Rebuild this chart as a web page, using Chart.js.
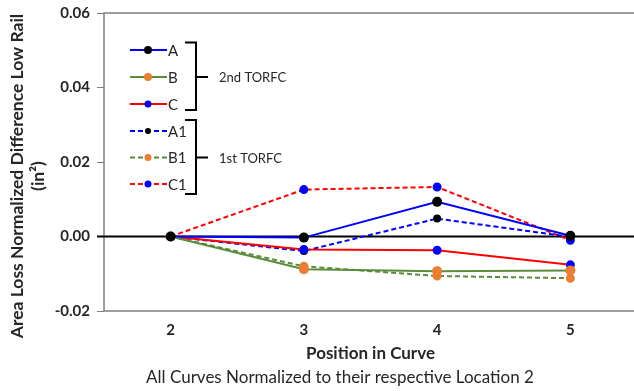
<!DOCTYPE html>
<html>
<head>
<meta charset="utf-8">
<script src="https://cdn.jsdelivr.net/npm/chart.js@4.4.1/dist/chart.umd.min.js"></script>
<style>
  html, body { margin: 0; padding: 0; background: #fff; overflow: hidden; }
  #wrap { position: relative; width: 645px; height: 391px; }
</style>
</head>
<body>
<div id="wrap"><canvas id="c" width="645" height="391"></canvas></div>
<script>
// ---- Data ----
const categories = ['2', '3', '4', '5'];
const yTicks = [-0.02, 0.00, 0.02, 0.04, 0.06];
const seriesNames = ['A', 'B', 'C', 'A1', 'B1', 'C1'];
const valuesA  = [0, -0.0003, 0.0093, 0.0002];
const valuesB  = [0, -0.0088, -0.0093, -0.0091];
const valuesC  = [0, -0.0035, -0.0037, -0.0076];
const valuesA1 = [0, -0.0039, 0.0048, -0.0001];
const valuesB1 = [0, -0.0080, -0.0106, -0.0112];
const valuesC1 = [0, 0.0126, 0.0133, -0.0010];
const groupLabels = ['2nd TORFC', '1st TORFC'];
const yTitleLines = ['Area Loss Normalized Difference Low Rail', '(in\u00B2)'];
const xTitle = 'Position in Curve';
const footnote = 'All Curves Normalized to their respective Location 2';

const FONT = 'Lato, "Open Sans", "Liberation Sans", sans-serif';
const TXT = '#262626';

function ds(label, data, line, marker, dashed, r) {
  return {
    label, data,
    borderColor: line, backgroundColor: marker,
    pointBackgroundColor: marker, pointBorderColor: marker,
    pointRadius: r, pointHoverRadius: r, borderWidth: 2,
    borderDash: dashed ? [5, 3] : [], tension: 0, fill: false
  };
}

const datasets = [
  ds(seriesNames[0], valuesA,  '#0000ff', '#000000', false, 4),
  ds(seriesNames[1], valuesB,  '#5b8c3a', '#ed7d31', false, 4),
  ds(seriesNames[2], valuesC,  '#ff0000', '#0000ff', false, 3.5),
  ds(seriesNames[3], valuesA1, '#0000ff', '#000000', true, 3),
  ds(seriesNames[4], valuesB1, '#5b8c3a', '#ed7d31', true, 3.5),
  ds(seriesNames[5], valuesC1, '#ff0000', '#0000ff', true, 3.5)
];

const decorPlugin = {
  id: 'decor',
  beforeDatasetsDraw(chart) {
    const {ctx, chartArea: a} = chart;
    ctx.save();
    ctx.strokeStyle = '#7f7f7f';
    ctx.lineWidth = 1.5;
    ctx.strokeRect(a.left, a.top, a.right - a.left, a.bottom - a.top);
    const y0 = chart.scales.y.getPixelForValue(0);
    ctx.strokeStyle = '#000';
    ctx.lineWidth = 2;
    ctx.beginPath(); ctx.moveTo(a.left - 7, y0); ctx.lineTo(a.right, y0); ctx.stroke();
    ctx.restore();
  },
  afterDraw(chart) {
    const {ctx} = chart;
    ctx.save();
    ctx.fillStyle = TXT;
    ctx.font = 'bold 17.5px ' + FONT;
    ctx.textAlign = 'center';
    ctx.textBaseline = 'middle';
    ctx.translate(17, 176);
    ctx.rotate(-Math.PI / 2);
    ctx.fillText(yTitleLines[0], 0, 0);
    ctx.fillText(yTitleLines[1], 0, 21);
    ctx.restore();

    ctx.save();
    ctx.fillStyle = TXT;
    ctx.textAlign = 'center';
    ctx.textBaseline = 'middle';
    ctx.font = 'bold 17px ' + FONT;
    const xs = chart.scales.x;
    ctx.fillText(xTitle, (xs.left + xs.right) / 2, 354);
    ctx.font = '17px ' + FONT;
    ctx.fillText(footnote, 340, 378);
    ctx.restore();

    ctx.save();
    const rows = [50, 77, 104, 131, 157.5, 184];
    chart.data.datasets.forEach((d, i) => {
      const y = rows[i];
      ctx.strokeStyle = d.borderColor;
      ctx.lineWidth = 2;
      ctx.setLineDash(d.borderDash.length ? [5, 3] : []);
      ctx.beginPath(); ctx.moveTo(130, y); ctx.lineTo(167, y); ctx.stroke();
      ctx.setLineDash([]);
      ctx.fillStyle = d.pointBackgroundColor;
      ctx.beginPath(); ctx.arc(148, y, d.pointRadius, 0, Math.PI * 2); ctx.fill();
      ctx.fillStyle = TXT;
      ctx.font = '15px ' + FONT;
      ctx.textAlign = 'left';
      ctx.textBaseline = 'middle';
      ctx.fillText(d.label, 168, y + 1);
    });
    ctx.strokeStyle = '#000';
    ctx.lineWidth = 2;
    const groups = [[42.5, 110, 77], [120, 194, 157.5]];
    groups.forEach((g, i) => {
      ctx.beginPath();
      ctx.moveTo(185, g[0]); ctx.lineTo(196, g[0]); ctx.lineTo(196, g[1]); ctx.lineTo(185, g[1]);
      ctx.moveTo(196, g[2]); ctx.lineTo(208, g[2]);
      ctx.stroke();
      ctx.fillStyle = TXT;
      ctx.font = '13px ' + FONT;
      ctx.textAlign = 'left';
      ctx.textBaseline = 'middle';
      ctx.fillText(groupLabels[i], 219, g[2] + 1);
    });
    ctx.restore();
  }
};

new Chart(document.getElementById('c'), {
  type: 'line',
  data: { labels: categories, datasets },
  plugins: [decorPlugin],
  options: {
    responsive: false,
    animation: false,
    devicePixelRatio: 1,
    layout: { padding: { top: 13, right: 8, bottom: 0, left: 0 } },
    plugins: { legend: { display: false }, tooltip: { enabled: false }, title: { display: false } },
    scales: {
      x: {
        type: 'category',
        offset: true,
        grid: { display: false, drawTicks: false },
        border: { display: false },
        ticks: { color: TXT, font: { family: FONT, size: 15, weight: 'bold' }, padding: 10 },
        afterFit(s) { s.height = 80; s.paddingLeft = 0; s.paddingRight = 0; }
      },
      y: {
        min: -0.02, max: 0.06,
        afterBuildTicks(s) { s.ticks = yTicks.map(v => ({ value: v })); },
        grid: { drawOnChartArea: false, drawTicks: true, tickLength: 7, color: '#7f7f7f', tickColor: '#7f7f7f' },
        border: { display: false },
        ticks: {
          color: TXT, padding: 7,
          font: { family: FONT, size: 15, weight: 'bold' },
          callback: v => v.toFixed(2)
        },
        afterFit(s) { s.width = 104; s.paddingTop = 0; s.paddingBottom = 0; }
      }
    }
  }
});
</script>
</body>
</html>
